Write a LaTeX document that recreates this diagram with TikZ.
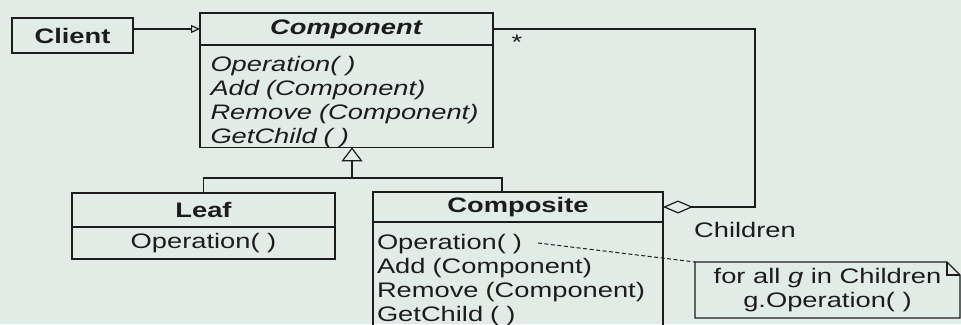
\documentclass[tikz,border=0pt]{standalone}
\usepackage{fontspec}
\setmainfont{Liberation Sans}[FakeStretch=1.3]
\usetikzlibrary{arrows.meta,positioning}
\definecolor{paper}{RGB}{226,236,231}
\definecolor{ink}{RGB}{28,28,28}

\begin{document}
\begin{tikzpicture}[x=1pt,y=-1pt,
	every node/.style={font=\fontsize{21}{24}\selectfont, text=ink, inner sep=0pt, outer sep=0pt},
	box/.style={draw=ink, line width=1.2pt},
	line/.style={draw=ink, line width=1.2pt},
	assoc/.style={line, -{Triangle[open, length=9pt, width=8pt]}},
	inherit/.style={line, -{Triangle[open, length=14pt, width=21pt]}},
	aggr/.style={line, -{Diamond[open, length=30pt, width=13pt]}}]
	\fill[paper] (0,0) rectangle (961,324);
	\useasboundingbox (0,0) rectangle (961,324);
	
	\node[box, anchor=north west, minimum width=121pt, minimum height=35pt] (client) at (12,18) {\textbf{Client}};
	
	\node[box, anchor=north west, minimum width=293pt, minimum height=32pt] (comphead) at (200,13) {\textbf{\textit{Component}}};
	\node[box, below=0pt of comphead, minimum width=293pt, minimum height=102pt, text width=272pt, align=left] (compbody)
		{\rule{0pt}{26pt}\textit{Operation( )}\\ \textit{Add (Component)}\\ \textit{Remove (Component)}\\ \textit{GetChild ( )}};
	
	\node[box, anchor=north west, minimum width=263pt, minimum height=34pt] (leafhead) at (72,193) {\textbf{Leaf}};
	\node[box, below=0pt of leafhead, minimum width=263pt, minimum height=32pt] (leafbody) {Operation( )};
	
	\node[box, anchor=north west, minimum width=290pt, minimum height=30pt] (composhead) at (373,192) {\textbf{Composite}};
	\node[box, below=0pt of composhead, minimum width=290pt, minimum height=104pt, text width=282pt, align=left] (composbody)
		{\rule{0pt}{27pt}Operation( )\\ Add (Component)\\ Remove (Component)\\ GetChild ( )};
	
	\node (many) at (517,42) {*};
	\node (children) at (745,230) {Children};
	\node[anchor=north west, minimum width=265pt, minimum height=56pt, align=center] (note) at (695,262)
		{for all \textit{g} in Children\\ g.Operation( )};
	
	% connectors
	\draw[assoc] (client.east |- comphead.west) -- (comphead.west);
	
	\coordinate (fork) at (352,178);
	\draw[inherit] (fork) -- (fork |- compbody.south);
	\draw[line] (leafhead.north) |- (fork) -| ([xshift=-16pt]composhead.north);
	
	\coordinate (loop) at (755,29);
	\draw[aggr] (comphead.east) -- (loop) |- (composhead.east);
	
	\coordinate (opend) at (538,243);
	\draw[line, line width=1pt, dash pattern=on 4pt off 2.5pt] (opend) -- (note.north west);
	
	% note with folded corner
	\draw[line] ([xshift=-13pt]note.north east) -- (note.north west) -- (note.south west) -- (note.south east) -- ([yshift=-13pt]note.north east) -- cycle;
	\draw[line] ([xshift=-13pt]note.north east) |- ([yshift=-13pt]note.north east);
\end{tikzpicture}
\end{document}
